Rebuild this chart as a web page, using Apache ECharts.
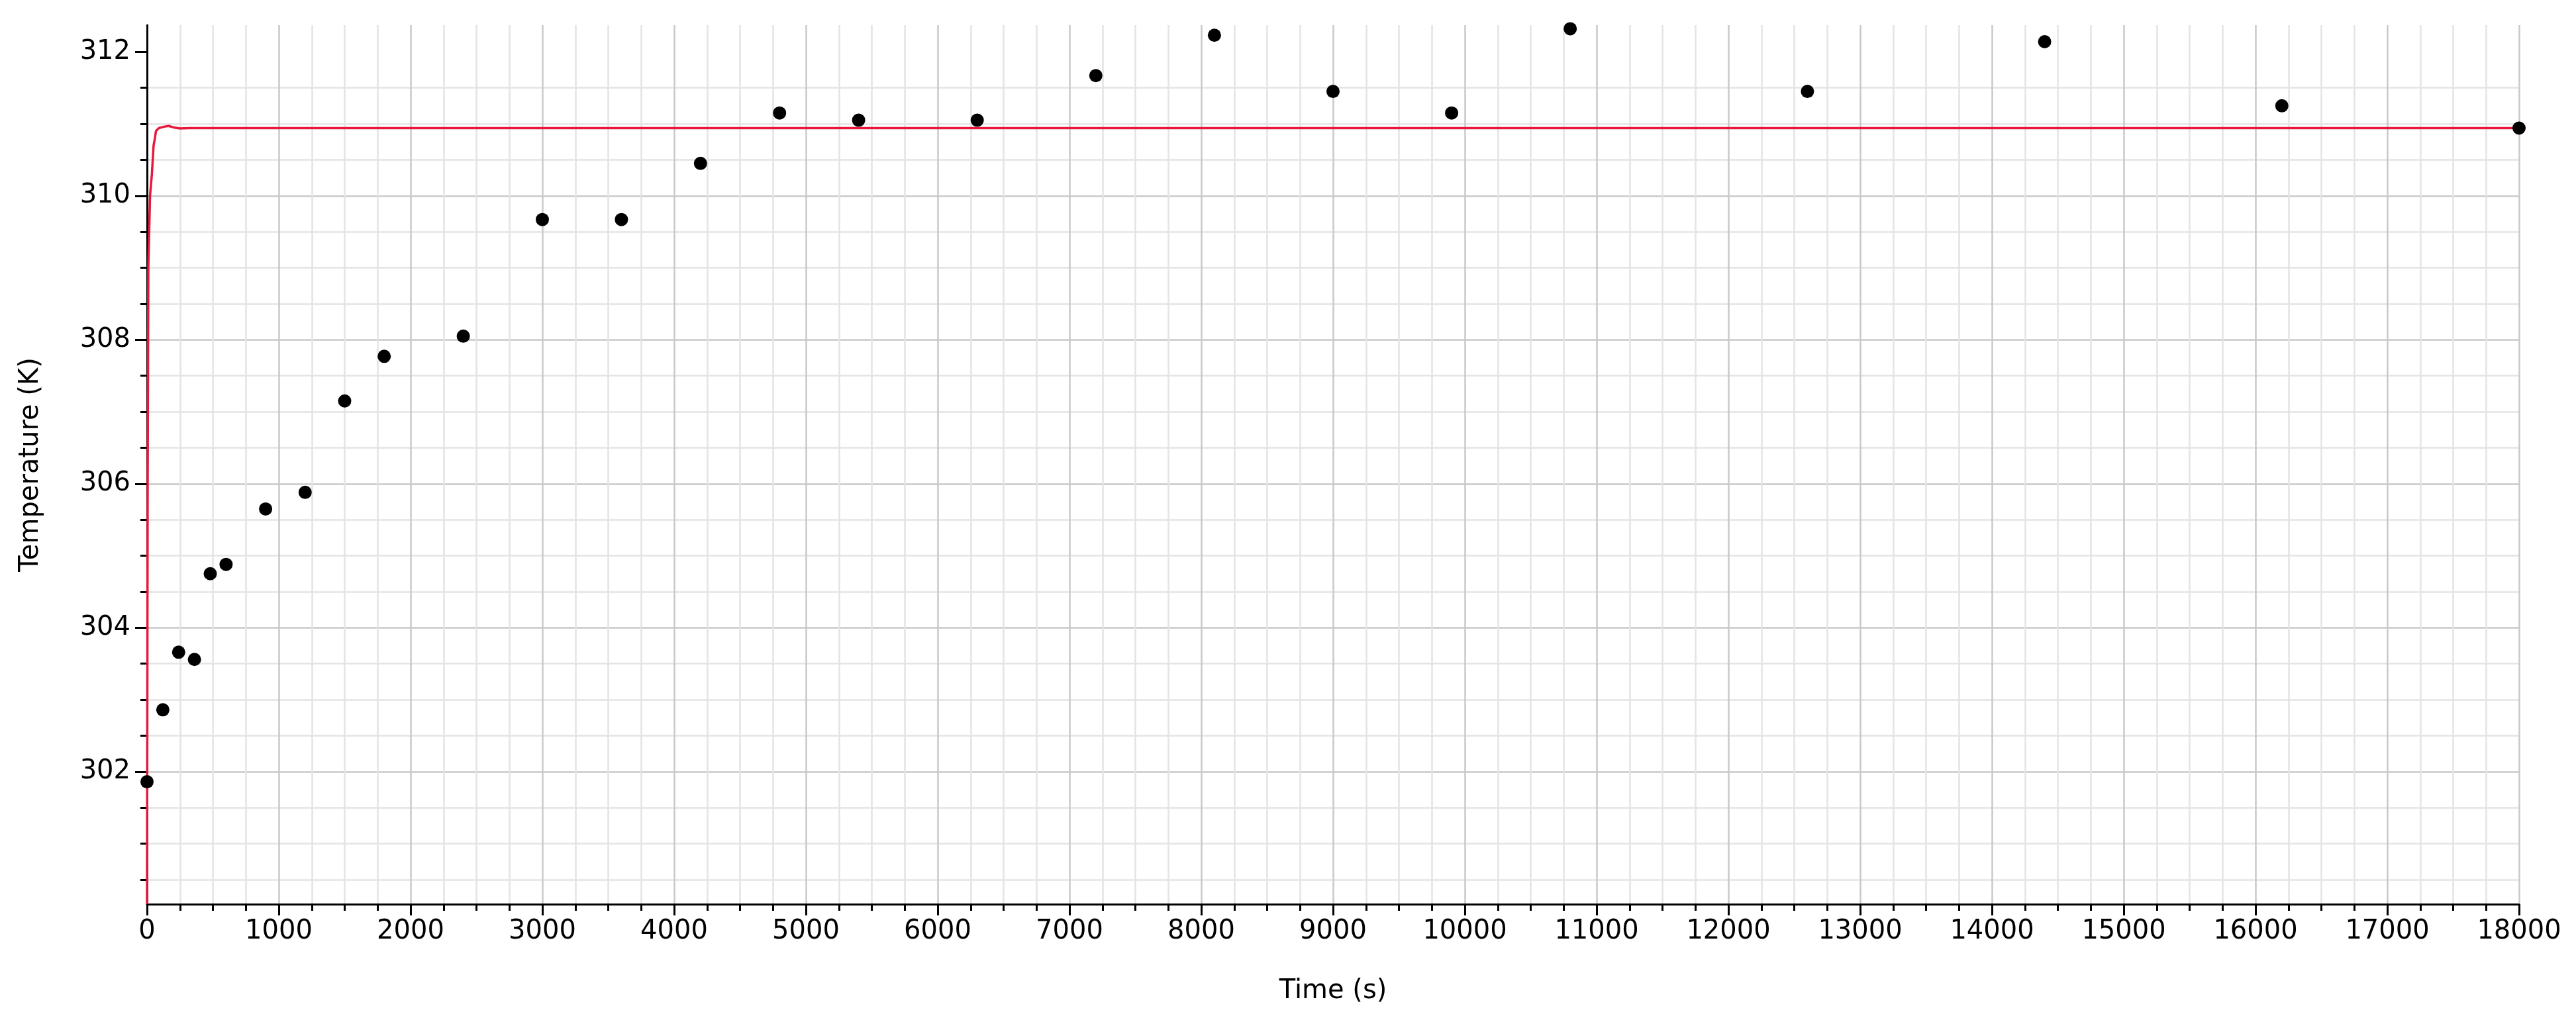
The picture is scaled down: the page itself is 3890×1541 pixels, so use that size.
<!DOCTYPE html>
<html>
<head>
<meta charset="utf-8">
<title>Temperature vs time</title>
<script src="https://cdn.jsdelivr.net/npm/echarts@6/dist/echarts.min.js"></script>
<style>
html, body { margin: 0; padding: 0; background: #fff; }
#main { width: 3890px; height: 1541px; }
</style>
</head>
<body>
<div id="main"></div>
<script>
// measured temperatures (black dots)
var measTime = [0, 120, 240, 360, 480, 600, 900, 1200, 1500, 1800, 2400, 3000, 3600, 4200, 4800, 5400, 6300, 7200, 8100, 9000, 9900, 10800, 12600, 14400, 16200, 18000];
var measTemp = [301.86, 302.86, 303.66, 303.56, 304.75, 304.88, 305.65, 305.88, 307.15, 307.77, 308.05, 309.67, 309.67, 310.45, 311.15, 311.05, 311.05, 311.67, 312.23, 311.45, 311.15, 312.32, 311.45, 312.14, 311.25, 310.94];

// model curve (red line)
var modelTime = [0, 5, 10, 23, 37, 50, 60, 68, 90, 130, 165, 200, 250, 320, 18000];
var modelTemp = [300.16, 306.0, 309.0, 310.0, 310.3, 310.7, 310.8, 310.9, 310.94, 310.96, 310.97, 310.95, 310.935, 310.94, 310.94];

// labelled y ticks
var yTicks = [302, 304, 306, 308, 310, 312];

function pairs(xs, ys) {
	var out = [];
	for (var i = 0; i < xs.length; i++) {
		out.push([xs[i], ys[i]]);
	}
	return out;
}

/**
 * 绘制图表
 */
function drawchart(divId, option) {
	echarts.dispose(document.getElementById(divId));
	var myChart = echarts.init(document.getElementById(divId));
	myChart.setOption(option);
	return myChart;
}

var font = 'DejaVu Sans';
var axisBlack = { color: '#000', width: 3 };

var option = {
	animation : false,
	backgroundColor : '#fff',
	grid : {
		left : 222,
		right : 86,
		top : 38,
		bottom : 175,
		outerBoundsMode : 'none'
	},
	xAxis : {
		type : 'value',
		min : 0,
		max : 18000,
		interval : 1000,
		name : 'Time (s)',
		nameLocation : 'middle',
		nameGap : 112,
		nameTextStyle : { color : '#000', fontFamily : font, fontSize : 40 },
		axisLine : { lineStyle : axisBlack },
		axisTick : { length : 17, lineStyle : axisBlack },
		minorTick : { show : true, splitNumber : 4, length : 10, lineStyle : axisBlack },
		axisLabel : {
			color : '#000',
			fontFamily : font,
			fontSize : 40,
			margin : 22,
			formatter : function(v) {
				return String(v);
			}
		},
		splitLine : { show : true, lineStyle : { color : '#c9c9c9', width : 2.5 } },
		minorSplitLine : { show : true, lineStyle : { color : '#e4e4e4', width : 2.5 } }
	},
	yAxis : {
		type : 'value',
		min : 300.16,
		max : 312.37,
		minInterval : 2,
		maxInterval : 2,
		name : 'Temperature (K)',
		nameLocation : 'middle',
		nameGap : 155,
		nameTextStyle : { color : '#000', fontFamily : font, fontSize : 40 },
		axisLine : { lineStyle : axisBlack },
		axisTick : { length : 18, lineStyle : axisBlack, customValues : yTicks },
		minorTick : { show : true, splitNumber : 4, length : 10, lineStyle : axisBlack },
		axisLabel : { color : '#000', fontFamily : font, fontSize : 40, margin : 25, customValues : yTicks },
		splitLine : { show : true, showMaxLine : false, lineStyle : { color : '#c9c9c9', width : 2.5 } },
		minorSplitLine : { show : true, lineStyle : { color : '#e4e4e4', width : 2.5 } }
	},
	series : [ {
		type : 'line',
		data : pairs(modelTime, modelTemp),
		showSymbol : false,
		smooth : false,
		clip : true,
		lineStyle : { color : '#e6193c', width : 3.5 },
		z : 3
	}, {
		type : 'scatter',
		data : pairs(measTime, measTemp),
		symbol : 'circle',
		symbolSize : 20,
		itemStyle : { color : '#000', opacity : 1 },
		z : 4
	} ]
};

drawchart('main', option);
</script>
</body>
</html>
